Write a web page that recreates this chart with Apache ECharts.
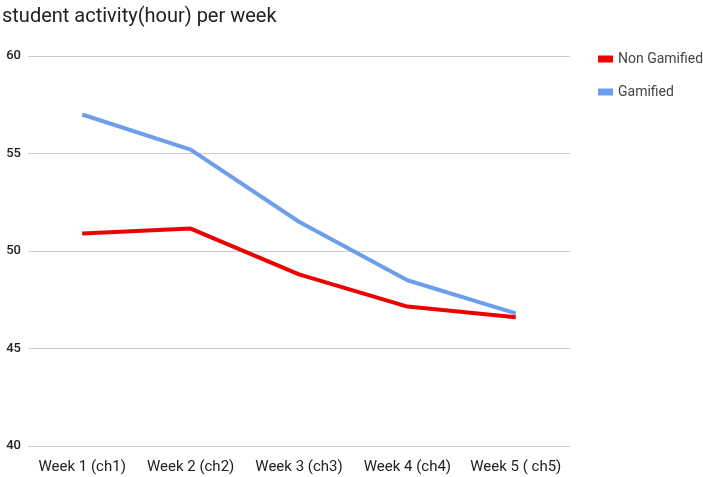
<!DOCTYPE html>
<html><head><meta charset="utf-8">
<script src="https://cdn.jsdelivr.net/npm/echarts@6/dist/echarts.min.js"></script>
<style>html,body{margin:0;padding:0;background:#fff}#c{width:703px;height:477px}</style>
</head><body><div id="c"></div>
<script>
const categories = ['Week 1 (ch1)', 'Week 2 (ch2)', 'Week 3 (ch3)', 'Week 4 (ch4)', 'Week 5 ( ch5)'];
const nonGamified = [50.9, 51.15, 48.8, 47.15, 46.6];
const gamified = [57.0, 55.2, 51.5, 48.5, 46.8];
const chart = echarts.init(document.getElementById('c'));
chart.setOption({
  animation: false,
  title: { text: 'student activity(hour) per week', left: -3, top: 2,
    textStyle: { fontFamily: 'Roboto', fontSize: 20, fontWeight: 'normal', color: '#222' } },
  legend: { orient: 'vertical', left: 593, top: 47, itemGap: 19, itemWidth: 15, itemHeight: 7,
    icon: 'rect', textStyle: { fontFamily: 'Roboto', fontSize: 14, color: '#444' } },
  grid: { left: 28, right: 133, top: 56, bottom: 31 },
  xAxis: { type: 'category', data: categories, boundaryGap: true,
    axisLine: { show: false }, axisTick: { show: false },
    axisLabel: { interval: 0, margin: 14, fontFamily: 'Roboto', fontSize: 15, color: '#222' } },
  yAxis: { type: 'value', min: 40, max: 60, interval: 5,
    axisLine: { show: false }, axisTick: { show: false },
    splitLine: { lineStyle: { color: '#cccccc', width: 1 } },
    axisLabel: { margin: 7, fontFamily: 'Roboto', fontSize: 13, fontWeight: 500, color: '#222' } },
  series: [
    { name: 'Non Gamified', type: 'line', data: nonGamified, showSymbol: false, symbol: 'none',
      color: '#ee0000', lineStyle: { width: 4, color: '#ee0000' } },
    { name: 'Gamified', type: 'line', data: gamified, showSymbol: false, symbol: 'none',
      color: '#6d9eeb', lineStyle: { width: 4, color: '#6d9eeb' } }
  ]
});
</script></body></html>
